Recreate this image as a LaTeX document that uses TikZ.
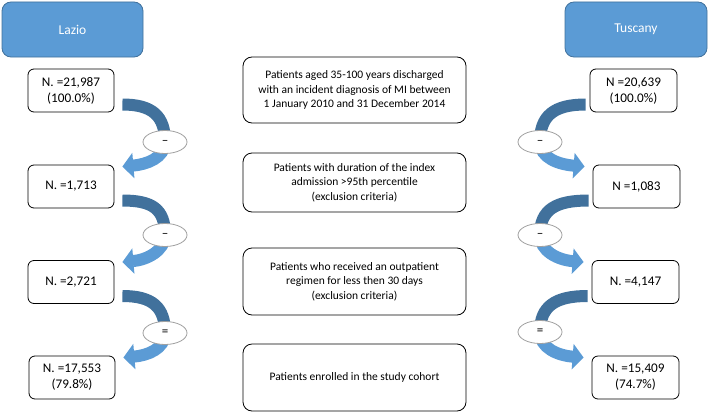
\documentclass[tikz,border=0pt]{standalone}
\usepackage{fontspec}
\setmainfont{Carlito}
\usetikzlibrary{arrows.meta,calc,shapes.geometric}
\definecolor{hdrfill}{HTML}{5B9BD5}
\definecolor{hdrline}{HTML}{41719C}
\definecolor{banddark}{HTML}{41719C}
\definecolor{bandlight}{HTML}{5B9BD5}
\definecolor{ovalline}{HTML}{A0A0A0}
\begin{document}
\begin{tikzpicture}[x=1pt,y=-1pt,
  header/.style={draw=hdrline,line width=0.8pt,fill=hdrfill,rounded corners=9pt,minimum height=55pt,text=white,font=\fontsize{13.5}{15}\selectfont},
  numbox/.style={draw=black,line width=0.8pt,rounded corners=6pt,minimum width=86pt,minimum height=43pt,align=center,font=\fontsize{13.2}{16}\selectfont,inner sep=0pt},
  midbox/.style={draw=black,line width=0.8pt,rounded corners=9pt,minimum width=223pt,align=center,font=\fontsize{11.5}{14.5}\selectfont,inner sep=0pt},
  oval/.style={draw=ovalline,line width=0.8pt,fill=white,shape=ellipse,minimum width=44pt,minimum height=23pt,inner sep=0pt,font=\fontsize{13}{13}\selectfont},
  darkband/.style={draw=banddark,line width=12pt},
  lightband/.style={draw=bandlight,line width=12pt,-{Triangle[length=11pt,width=25pt]}}
]
\useasboundingbox (0,0) rectangle (708,412);
% headers
\node[header,minimum width=141pt] (lazio) at (72.5,29.5) {Lazio};
\node[header,minimum width=142pt] (tuscany) at (636,29.5) {Tuscany};
% left boxes
\node[numbox] (L1) at (71,90.5) {N. =21,987\\(100.0\%)};
\node[numbox] (L2) at (71,186.5) {N. =1,713};
\node[numbox] (L3) at (71,282) {N. =2,721};
\node[numbox] (L4) at (72,377.5) {N. =17,553\\(79.8\%)};
% right boxes
\node[numbox,minimum width=87pt] (R1) at (633.5,90.5) {N =20,639\\(100.0\%)};
\node[numbox,minimum width=87pt] (R2) at (636.5,186.5) {N =1,083};
\node[numbox,minimum width=87pt] (R3) at (635.5,282) {N. =4,147};
\node[numbox,minimum width=87pt] (R4) at (635.5,377.5) {N. =15,409\\(74.7\%)};
% middle boxes
\node[midbox,minimum height=66pt] (M1) at (354.5,90) {Patients aged 35-100 years discharged\\with an incident diagnosis of MI between\\1 January 2010 and 31 December 2014};
\node[midbox,minimum height=59pt] (M2) at (354.5,182.5) {Patients with duration of the index\\admission >95th percentile\\(exclusion criteria)};
\node[midbox,minimum height=67pt] (M3) at (354.5,281.5) {Patients who received an outpatient\\regimen for less then 30 days\\(exclusion criteria)};
\node[midbox,minimum height=67pt] (M4) at (354.5,377.5) {Patients enrolled in the study cohort};
% oval anchors (coordinates)
\coordinate (le1) at (165,142);
\coordinate (le2) at (165,235);
\coordinate (le3) at (165,333);
\coordinate (re1) at (540,142);
\coordinate (re2) at (540,235);
\coordinate (re3) at (540,332);
% left curved arrows
\foreach \a/\b/\e in {L1/L2/le1,L2/L3/le2,L3/L4/le3}{
  \draw[darkband] ($(\a.east)+(8,14)$) .. controls +(30,0) and +(0,-26) .. (\e);
  \draw[lightband] (\e) .. controls +(0,16) and +(24,-2) .. ($(\b.east)+(8,-20)$);
}
% right curved arrows
\foreach \a/\b/\e in {R1/R2/re1,R2/R3/re2,R3/R4/re3}{
  \draw[darkband] ($(\a.west)+(-4,14)$) .. controls +(-32,0) and +(0,-26) .. (\e);
  \draw[lightband] (\e) .. controls +(0,16) and +(-26,-2) .. ($(\b.west)+(-8,-20)$);
}
% ovals
\node[oval] (o1) at (le1) {–};
\node[oval] (o2) at (le2) {–};
\node[oval] (o3) at (le3) {=};
\node[oval] (o4) at (re1) {–};
\node[oval] (o5) at (re2) {–};
\node[oval] (o6) at (re3) {=};
\end{tikzpicture}
\end{document}
